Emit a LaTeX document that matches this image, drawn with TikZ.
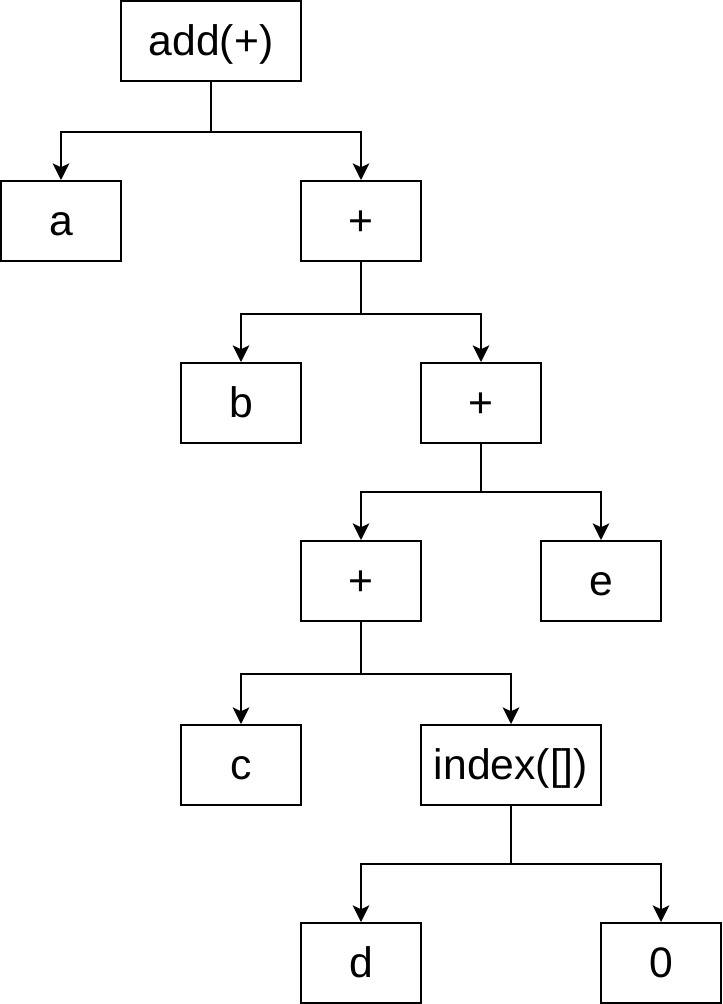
\documentclass[tikz,border=0pt]{standalone}
\usepackage{fontspec}
\setmainfont{Liberation Sans}
\usetikzlibrary{arrows.meta}
\begin{document}
\begin{tikzpicture}[x=0.75pt, y=-0.75pt,
  box/.style={draw, line width=1.5pt, minimum width=90pt, minimum height=60pt, inner sep=0pt, text height=26pt, text depth=5pt, font=\fontsize{32}{38}\selectfont},
  widebox/.style={box, minimum width=135pt},
  link/.style={line width=1.5pt, -{Stealth[length=12.5pt, width=12.5pt, inset=3pt]}}]
\useasboundingbox (0,0) rectangle (722,1004);

\node[widebox] (add) at (211,41) {add(+)};
\node[box] (a) at (61,221) {a};
\node[box] (plusA) at (361,221) {+};
\node[box] (b) at (241,403) {b};
\node[box] (plusB) at (481,403) {+};
\node[box] (plusC) at (361,581) {+};
\node[box] (e) at (601,581) {e};
\node[box] (c) at (241,765) {c};
\node[widebox] (index) at (511,765) {index([])};
\node[box] (d) at (361,963) {d};
\node[box] (zero) at (661,963) {0};

\draw[link] (add.south) -- ++(0,50) -| (a.north);
\draw[link] (add.south) -- ++(0,50) -| (plusA.north);

\draw[link] (plusA.south) -- ++(0,52) -| (b.north);
\draw[link] (plusA.south) -- ++(0,52) -| (plusB.north);

\draw[link] (plusB.south) -- ++(0,48) -| (plusC.north);
\draw[link] (plusB.south) -- ++(0,48) -| (e.north);

\draw[link] (plusC.south) -- ++(0,52) -| (c.north);
\draw[link] (plusC.south) -- ++(0,52) -| (index.north);

\draw[link] (index.south) -- ++(0,58) -| (d.north);
\draw[link] (index.south) -- ++(0,58) -| (zero.north);

\end{tikzpicture}
\end{document}
